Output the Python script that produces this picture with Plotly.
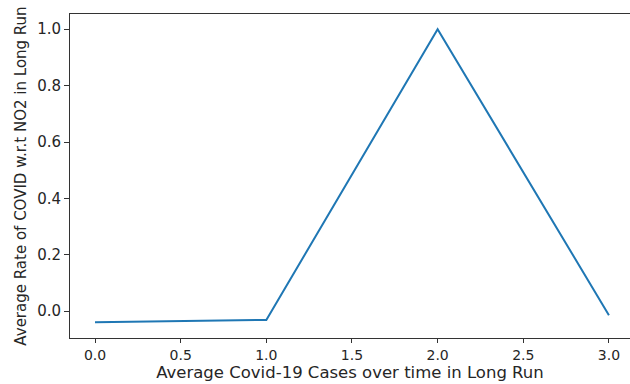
import plotly.graph_objects as go

x_vals = [0, 1, 2, 3]
y_vals = [-0.039, -0.031, 1.0, -0.014]
x_ticks = [0.0, 0.5, 1.0, 1.5, 2.0, 2.5, 3.0]
x_tick_text = ["0.0", "0.5", "1.0", "1.5", "2.0", "2.5", "3.0"]
y_ticks = [0.0, 0.2, 0.4, 0.6, 0.8, 1.0]
y_tick_text = ["0.0", "0.2", "0.4", "0.6", "0.8", "1.0"]

fig = go.Figure(go.Scatter(x=x_vals, y=y_vals, mode="lines",
                           line=dict(color="#1f77b4", width=2)))

font_color = "#262626"
fig.update_layout(
    width=630, height=384,
    margin=dict(l=70, r=0, t=14, b=46),
    paper_bgcolor="white", plot_bgcolor="white",
    font=dict(family="DejaVu Sans", size=15, color=font_color),
    showlegend=False,
    xaxis=dict(range=[-0.146, 3.123], tickvals=x_ticks, ticktext=x_tick_text,
               showgrid=False, zeroline=False, showline=True, linecolor="#333",
               linewidth=1, mirror=True, ticks="outside", ticklen=4,
               tickcolor="#333", tickfont=dict(size=14, color=font_color),
               title=dict(text="Average Covid-19 Cases over time in Long Run",
                          font=dict(size=16.5, color=font_color), standoff=3)),
    yaxis=dict(range=[-0.095, 1.054], tickvals=y_ticks, ticktext=y_tick_text,
               showgrid=False, zeroline=False, showline=True, linecolor="#333",
               linewidth=1, mirror=False, ticks="outside", ticklen=5,
               tickcolor="#333", tickfont=dict(size=15, color=font_color),
               title=dict(text="Average Rate of COVID w.r.t NO2 in Long Run",
                          font=dict(size=15, color=font_color), standoff=6)),
)

fig.write_html("out.html")
